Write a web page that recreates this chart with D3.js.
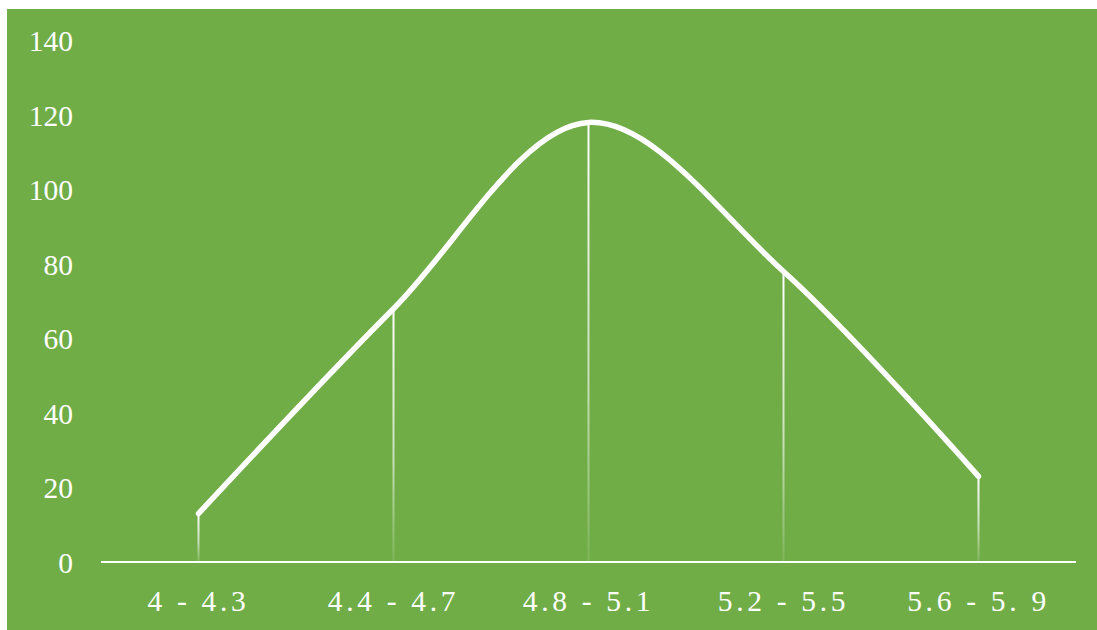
<!DOCTYPE html>
<html>
<head>
<meta charset="utf-8">
<script src="https://cdn.jsdelivr.net/npm/d3@7"></script>
<style>
  html, body { margin: 0; padding: 0; background: #ffffff; }
  svg { display: block; }
  text { font-family: "Liberation Serif", "Times New Roman", serif; fill: #ffffff; }
</style>
</head>
<body>
<svg id="chart" width="1097" height="630"></svg>
<script>
// Frequency by interval
const categories = ["4 - 4.3", "4.4 - 4.7", "4.8 - 5.1", "5.2 - 5.5", "5.6 - 5. 9"];
const values = [13, 68, 118, 78, 23];
const yTicks = [0, 20, 40, 60, 80, 100, 120, 140];

const W = 1097, H = 630;
const margin = { left: 101, right: 21, top: 40.5, bottom: 68 };

const svg = d3.select("#chart");

// green panel
svg.append("rect")
  .attr("x", 7).attr("y", 9)
  .attr("width", W - 7).attr("height", H - 9)
  .attr("fill", "#70AD47");

const x = d3.scaleBand()
  .domain(categories)
  .range([margin.left, W - margin.right])
  .padding(0);

const y = d3.scaleLinear()
  .domain([0, 140])
  .range([H - margin.bottom, margin.top]);

const cx = d => x(d) + x.bandwidth() / 2;

// fading gradient for drop lines
const defs = svg.append("defs");
const grad = defs.append("linearGradient")
  .attr("id", "dropFade")
  .attr("x1", 0).attr("y1", 0).attr("x2", 0).attr("y2", 1);
grad.append("stop").attr("offset", "0%").attr("stop-color", "#fff").attr("stop-opacity", 1);
grad.append("stop").attr("offset", "60%").attr("stop-color", "#fff").attr("stop-opacity", 0.6);
grad.append("stop").attr("offset", "100%").attr("stop-color", "#fff").attr("stop-opacity", 0.1);

// y-axis labels (no axis line)
const yAxis = d3.axisLeft(y).tickValues(yTicks).tickSize(0).tickPadding(0);
const gy = svg.append("g")
  .attr("transform", `translate(${73},0)`)
  .call(yAxis);
gy.select(".domain").remove();
gy.selectAll("text")
  .attr("font-size", 29.5)
  .attr("font-family", "Liberation Serif, Times New Roman, serif")
  .attr("fill", "#fff")
  .attr("dy", "0.34em");

// drop lines
svg.append("g").selectAll("rect")
  .data(categories)
  .join("rect")
  .attr("x", d => cx(d) - 1)
  .attr("width", 2)
  .attr("y", (d, i) => y(values[i]))
  .attr("height", (d, i) => y(0) - y(values[i]))
  .attr("fill", "url(#dropFade)");

// x axis line
svg.append("line")
  .attr("x1", margin.left).attr("x2", W - margin.right)
  .attr("y1", y(0)).attr("y2", y(0))
  .attr("stroke", "#fff").attr("stroke-width", 2);

// x-axis labels
const xAxis = d3.axisBottom(x).tickSize(0).tickPadding(0);
const gx = svg.append("g")
  .attr("transform", `translate(0,${y(0)})`)
  .call(xAxis);
gx.select(".domain").remove();
gx.selectAll("text")
  .attr("font-size", 29.5)
  .attr("font-family", "Liberation Serif, Times New Roman, serif")
  .attr("fill", "#fff")
  .attr("letter-spacing", "3.7px")
  .attr("y", 49)
  .attr("dy", 0);

// smoothed line
const line = d3.line()
  .x(d => cx(d.c))
  .y(d => y(d.v))
  .curve(d3.curveCatmullRom.alpha(0.5));

svg.append("path")
  .datum(categories.map((c, i) => ({ c, v: values[i] })))
  .attr("d", line)
  .attr("fill", "none")
  .attr("stroke", "#fff")
  .attr("stroke-width", 5.5)
  .attr("stroke-linecap", "round")
  .attr("stroke-linejoin", "round");
</script>
</body>
</html>
